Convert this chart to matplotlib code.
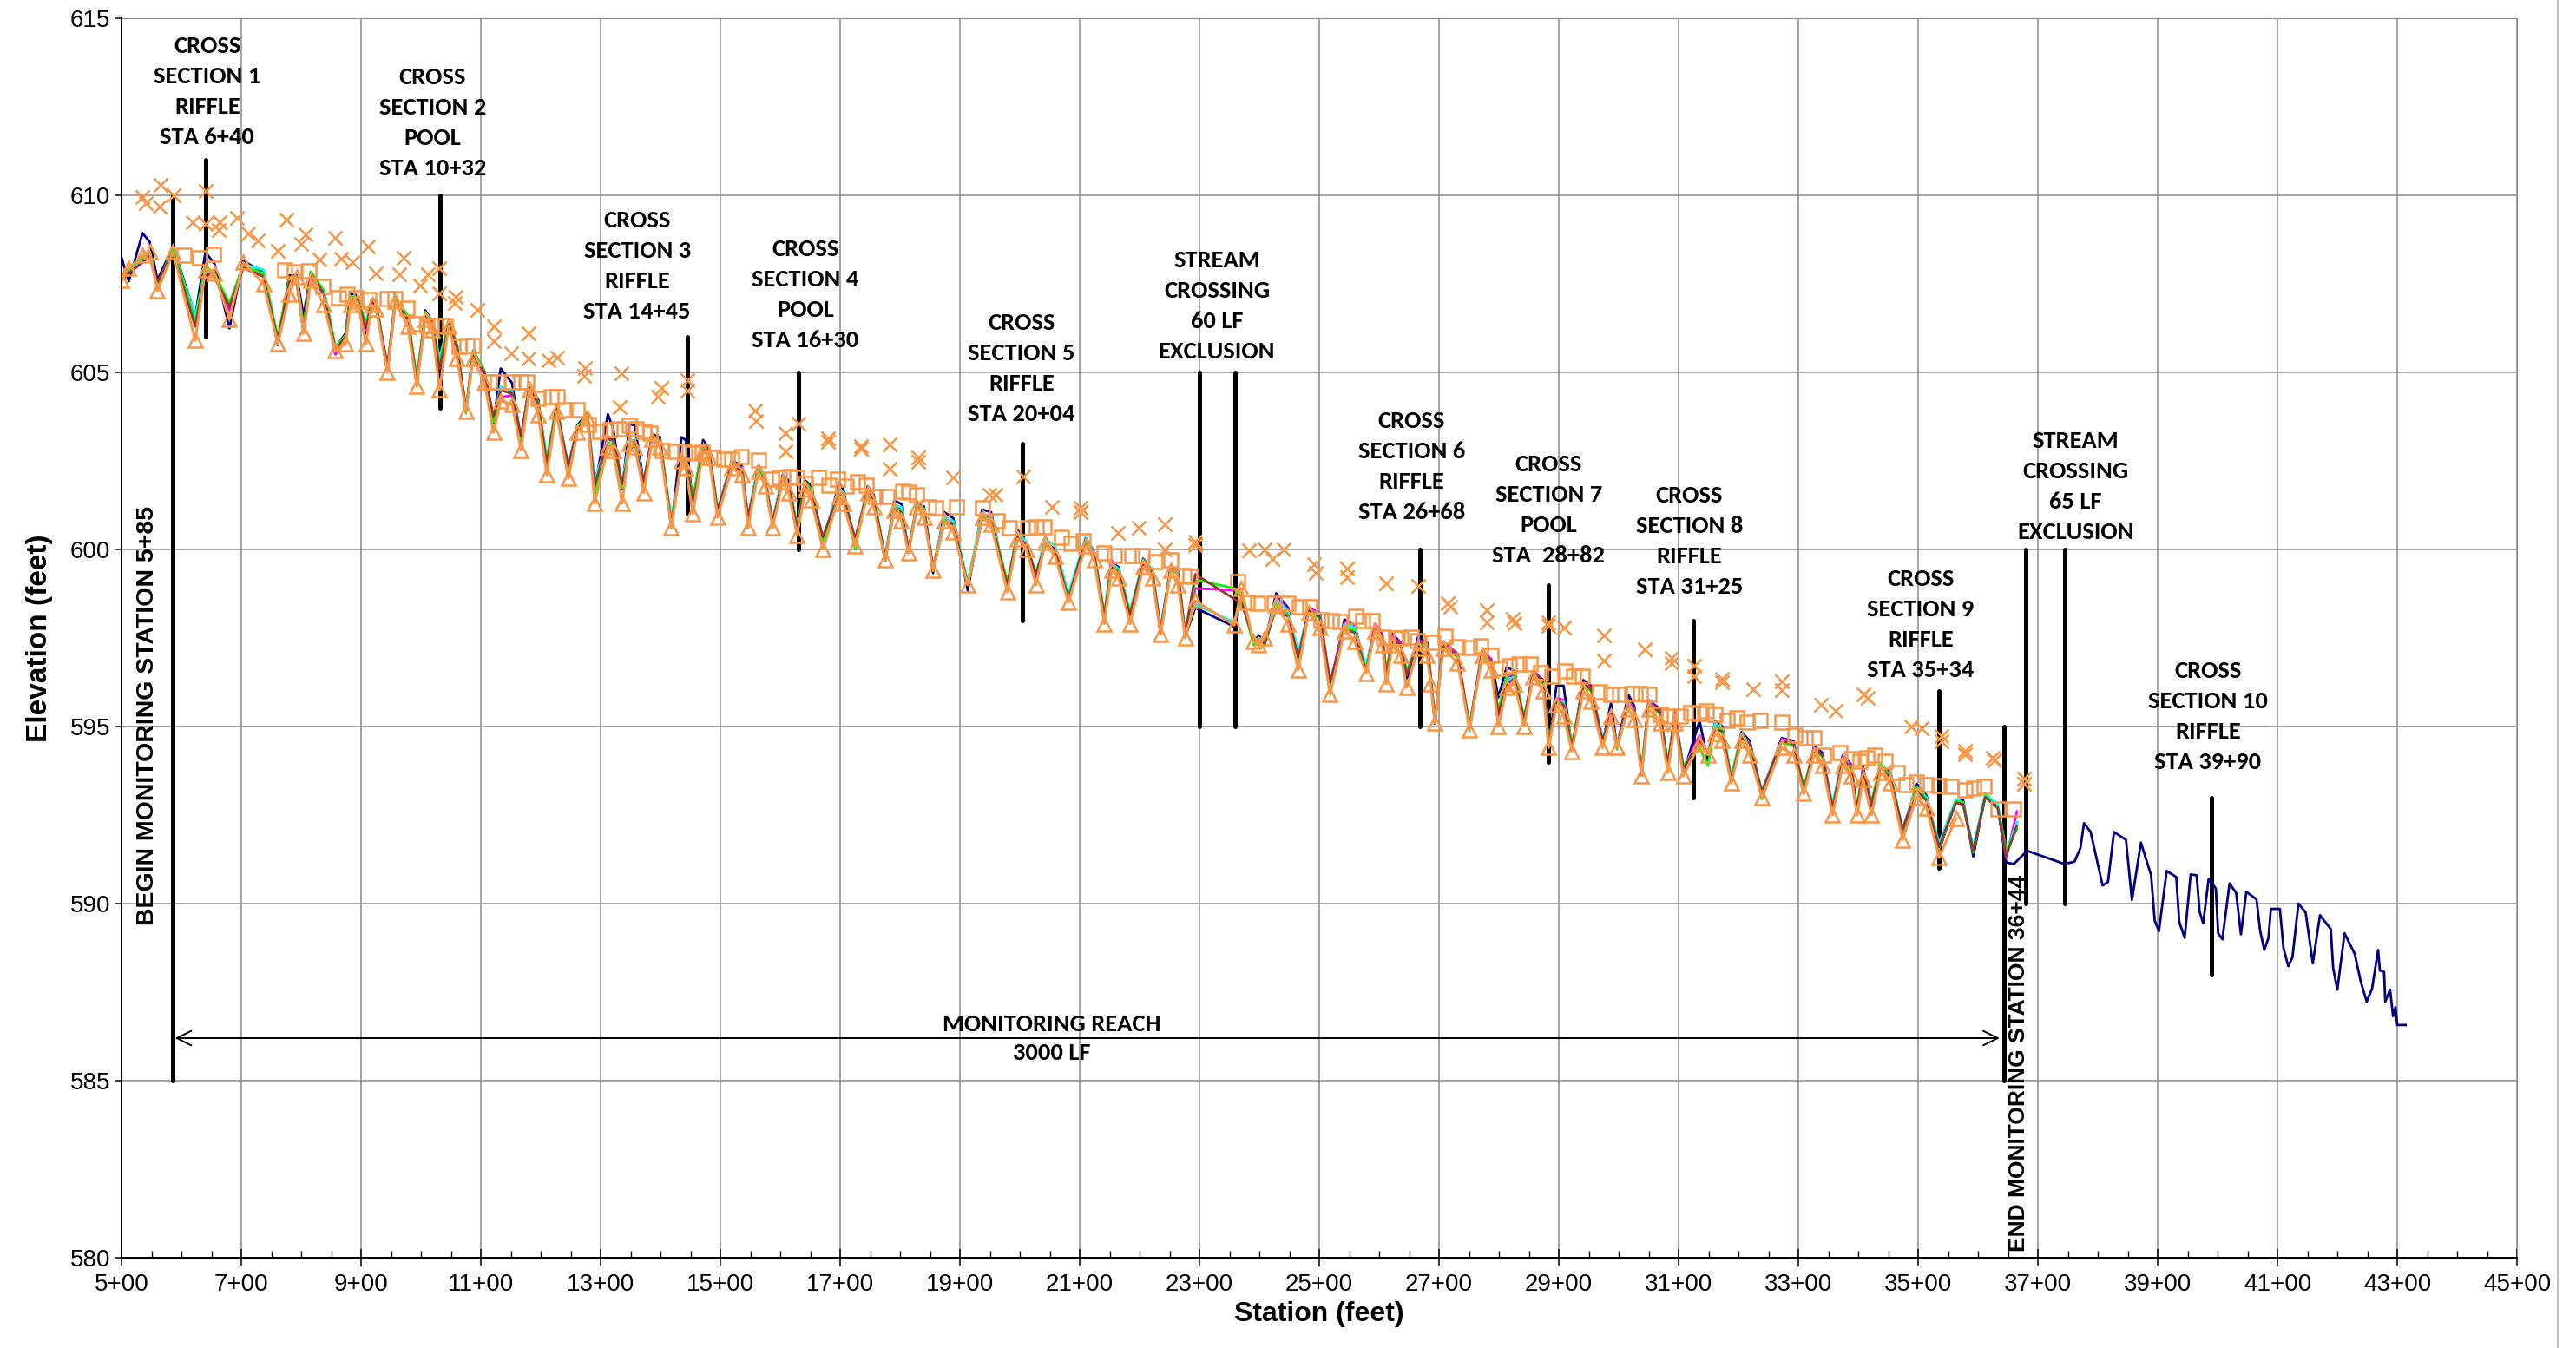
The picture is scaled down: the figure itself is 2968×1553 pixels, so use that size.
import matplotlib
matplotlib.use('Agg')
import numpy as np
import matplotlib.pyplot as plt
from matplotlib.ticker import FixedLocator, FuncFormatter
from matplotlib.lines import Line2D
from matplotlib import font_manager

# ---------------- data ----------------
# survey stations shared by the as-built profile and the monitoring surveys (ft)
survey_sta = [500, 512, 535, 547, 560, 586, 623, 640, 655, 680, 703, 737, 761, 780, 792, 804, 816, 838, 857, 874,
              882, 894, 908, 918, 925, 944, 957, 978, 993, 1007, 1019, 1031, 1046, 1060, 1075, 1087, 1106, 1121,
              1133, 1152, 1167, 1181, 1196, 1210, 1226,
              1246, 1261, 1278, 1290, 1312, 1321, 1336, 1348, 1357, 1372, 1386, 1399, 1418, 1435, 1442, 1454, 1471,
              1481, 1495, 1519, 1536, 1546, 1563, 1575, 1587, 1604, 1614, 1628, 1642, 1652, 1671, 1698, 1705, 1725,
              1746, 1756, 1775, 1790, 1802, 1814, 1828, 1840, 1855, 1874, 1889, 1913, 1937, 1952,
              1979, 1996, 2011, 2027, 2042, 2059, 2081, 2110, 2124, 2141, 2153, 2165, 2184, 2206, 2221, 2235, 2252,
              2264, 2276, 2293, 2358, 2370, 2390, 2399, 2409, 2428, 2448, 2465, 2482, 2501, 2518, 2542, 2559, 2578,
              2593, 2605, 2612, 2622, 2636, 2646, 2665, 2680,
              2686, 2693, 2707, 2731, 2751, 2772, 2787, 2799, 2813, 2826, 2842, 2857, 2874, 2883, 2896, 2908, 2922,
              2941, 2954, 2973, 2987, 2997, 3016, 3026, 3038, 3050, 3069, 3082, 3094, 3108, 3135, 3149, 3161, 3173,
              3188, 3205, 3219, 3239, 3272, 3292, 3309, 3326, 3340, 3357, 3374, 3388, 3398, 3408,
              3422, 3437, 3454, 3474, 3497, 3514, 3535, 3563, 3575, 3592, 3612, 3633, 3647]

# as-built profile (navy), continues below the monitoring reach
asb_tail_sta = [3660, 3682, 3744, 3761, 3771, 3777, 3788, 3808, 3817, 3827, 3847, 3857, 3872, 3889, 3895, 3902,
                3915, 3931, 3936, 3945, 3955, 3965, 3970, 3976, 3985, 3997, 4001, 4008, 4020, 4031, 4039, 4048,
                4065, 4071, 4078, 4085, 4089, 4104, 4110, 4118, 4125, 4135, 4147, 4159, 4171, 4189, 4193, 4200,
                4212, 4229, 4239, 4249, 4258, 4268, 4271, 4278, 4280, 4288, 4293, 4297, 4300, 4314]
asb_el = [608.23, 607.57, 608.93, 608.68, 607.61, 608.56, 606.59, 608.39, 608.07, 606.24, 608.15, 607.82, 605.77,
          607.74, 607.74, 606.59, 607.82, 607.25, 605.69, 606.10, 607.25, 607.16, 606.10, 607.08, 607.00, 605.03,
          607.08, 606.59, 604.62, 606.75, 606.43, 604.70, 606.43, 605.77, 603.89, 605.61, 605.03, 603.56, 605.11,
          604.70, 603.07, 604.70, 604.21, 602.25, 604.10,
          602.27, 603.50, 603.86, 601.70, 603.82, 603.41, 601.70, 603.54, 603.50, 601.86, 603.25, 603.17, 600.64,
          603.17, 603.09, 601.29, 603.09, 602.84, 601.05, 602.52, 602.35, 600.88, 602.35, 602.03, 600.72, 602.11,
          601.94, 600.56, 601.94, 601.78, 600.15, 601.86, 601.70, 600.15, 601.78, 601.54, 599.66, 601.37, 601.29,
          599.90, 601.29, 601.21, 599.33, 601.05, 600.88, 598.84, 601.13, 601.05,
          598.84, 600.56, 600.15, 599.17, 600.15, 600.02, 598.59, 600.31, 599.90, 598.02, 599.66, 599.49, 597.98,
          599.74, 599.41, 597.61, 599.53, 599.41, 597.53, 598.35, 597.82, 598.68, 597.37, 597.57, 597.37, 598.76,
          598.35, 596.72, 598.35, 598.19, 596.06, 598.02, 597.86, 596.55, 597.86, 597.61, 596.39, 597.61, 597.37,
          596.31, 597.53, 597.37,
          596.39, 595.08, 597.38, 597.05, 594.92, 597.13, 596.89, 595.82, 596.68, 596.56, 595.16, 596.56, 596.31,
          594.43, 596.15, 596.15, 594.34, 596.31, 596.15, 594.51, 595.66, 594.43, 595.90, 595.57, 593.61, 595.74,
          595.49, 593.85, 595.41, 593.69, 595.16, 594.02, 595.16, 595.00, 593.44, 594.84, 594.59, 593.03, 594.67,
          594.59, 593.11, 594.43, 594.26, 592.62, 594.18, 593.93, 592.54, 593.85,
          592.72, 593.91, 593.70, 591.90, 593.38, 593.05, 591.49, 592.93, 592.93, 591.33, 593.05, 592.72, 591.16,
          591.12, 591.49, 591.12, 591.18, 591.57, 592.27, 592.02, 590.51, 590.61, 592.02, 591.80, 590.10, 591.72,
          590.80, 589.52, 589.22, 590.92, 590.75, 589.48, 589.03, 590.82, 590.80, 589.77, 589.44, 590.69, 590.43,
          589.16, 588.99, 590.57, 590.30, 589.13, 590.33, 590.12, 589.24, 588.69, 589.03, 589.85, 589.85, 588.75,
          588.23, 588.48, 590.00, 589.75, 588.31, 589.67, 589.28, 588.17, 587.57, 589.16, 588.58, 587.80, 587.23,
          587.60, 588.69, 588.11, 588.07, 587.23, 587.57, 586.82, 587.07, 586.57, 586.57]

# monitoring surveys
mon_sta = survey_sta + [3665]
mon_cyan = [607.7, 607.9, 608.2, 608.35, 607.4, 608.45, 606.6, 607.9, 607.75, 606.9, 608.05, 607.9, 605.95, 607.6,
            607.65, 606.3, 607.75, 607.3, 605.75, 606.0, 607.1, 607.1, 606.4, 607.0, 606.95, 605.15, 607.0, 606.55,
            604.85, 606.65, 606.4, 605.4, 606.4, 605.75, 604.0, 605.55, 605.0, 603.7, 604.6, 604.45, 603.2, 604.55,
            604.1, 602.6, 604.0,
            602.4, 603.4, 603.75, 602.0, 603.0, 603.1, 601.9, 603.05, 603.1, 601.9, 603.1, 603.05, 600.9, 602.4, 602.6,
            601.4, 602.9, 602.8, 601.15, 602.4, 602.25, 600.95, 602.3, 601.95, 600.85, 602.0, 601.85, 600.7, 601.85,
            601.7, 600.3, 601.75, 601.6, 600.3, 601.7, 601.5, 599.8, 601.25, 601.2, 600.0, 601.25, 601.15, 599.5,
            600.9, 600.8, 599.1, 601.0, 600.95,
            599.0, 600.5, 600.2, 599.3, 600.3, 600.1, 598.75, 600.35, 599.95, 598.2, 599.6, 599.45, 598.25, 599.7,
            599.45, 597.8, 599.5, 599.4, 597.65, 598.45, 597.95, 598.6, 597.4, 597.5, 597.4, 598.6, 598.25, 597.1,
            598.3, 598.15, 596.0, 597.9, 597.8, 596.7, 597.8, 597.6, 596.5, 597.45, 597.3, 596.6, 597.4, 597.3,
            596.5, 595.2, 597.3, 597.0, 594.85, 597.1, 596.85, 595.4, 596.3, 596.4, 595.2, 596.5, 596.25, 594.6,
            595.6, 595.7, 594.45, 596.2, 596.05, 594.7, 595.2, 594.5, 595.6, 595.45, 593.8, 595.65, 595.4, 593.9,
            595.3, 593.85, 594.6, 594.3, 595.1, 594.95, 593.6, 594.8, 594.5, 593.2, 594.6, 594.5, 593.25, 594.35,
            594.2, 592.8, 594.1, 593.85, 592.7, 593.75,
            592.9, 593.85, 593.65, 592.1, 593.3, 593.0, 591.7, 592.95, 592.85, 591.6, 593.1, 592.8, 591.45, 592.3]
mon_magenta = [607.6, 607.85, 608.1, 608.3, 607.35, 608.4, 606.3, 607.8, 607.7, 606.75, 607.95, 607.75, 605.9, 607.5,
               607.6, 606.1, 607.7, 607.2, 605.5, 605.9, 607.0, 607.05, 606.2, 606.95, 606.9, 605.0, 606.95, 606.5,
               604.7, 606.6, 606.35, 605.3, 606.3, 605.7, 603.95, 605.5, 604.95, 603.65, 604.3, 604.35, 603.15, 604.6,
               604.05, 602.45, 603.95,
               602.3, 603.35, 603.7, 601.9, 603.2, 603.05, 601.8, 603.1, 603.0, 601.85, 603.05, 603.0, 600.8, 602.5,
               602.55, 601.35, 602.8, 602.75, 600.95, 602.45, 602.3, 600.9, 602.2, 601.9, 600.75, 602.0, 601.8, 600.6,
               601.8, 601.65, 600.25, 601.7, 601.55, 600.2, 601.65, 601.45, 599.75, 601.2, 601.15, 599.95, 601.2,
               601.1, 599.45, 600.85, 600.75, 599.0, 600.95, 600.9,
               598.9, 600.45, 600.1, 599.2, 600.2, 600.0, 598.7, 600.25, 599.85, 598.1, 599.7, 599.4, 598.1, 599.6,
               599.35, 597.7, 599.45, 599.35, 597.6, 598.9, 598.85, 598.7, 597.35, 597.45, 597.35, 598.65, 598.3,
               596.9, 598.35, 598.2, 596.2, 597.95, 597.85, 596.65, 597.9, 597.65, 596.45, 597.55, 597.35, 596.5,
               597.45, 597.3,
               596.4, 595.15, 597.35, 597.05, 595.0, 597.15, 596.9, 595.3, 596.4, 596.45, 595.15, 596.55, 596.3, 594.5,
               595.8, 595.75, 594.4, 596.25, 596.1, 594.6, 595.4, 594.45, 595.7, 595.5, 593.7, 595.7, 595.45, 593.85,
               595.35, 593.8, 594.75, 594.2, 595.05, 594.9, 593.5, 594.7, 594.45, 593.1, 594.65, 594.55, 593.2, 594.4,
               594.2, 592.75, 594.15, 593.9, 592.65, 593.8,
               592.8, 593.9, 593.6, 592.0, 593.25, 592.95, 591.6, 592.85, 592.8, 591.55, 593.0, 592.75, 591.3, 592.6]
mon_green = [607.65, 607.9, 608.25, 608.4, 607.45, 608.55, 606.4, 608.0, 607.8, 606.95, 608.0, 607.8, 606.0, 607.65,
             607.7, 606.25, 607.85, 607.3, 605.7, 606.05, 607.15, 607.1, 606.35, 607.05, 606.95, 605.1, 607.1, 606.6,
             604.8, 606.7, 606.45, 605.2, 606.45, 605.8, 603.85, 605.6, 605.05, 603.6, 604.5, 604.4, 603.1, 604.65,
             604.15, 602.5, 604.05,
             602.1, 603.45, 603.8, 601.55, 602.9, 603.0, 601.75, 602.9, 603.0, 601.7, 603.2, 603.1, 600.75, 602.45,
             602.5, 601.45, 602.95, 602.8, 601.1, 602.3, 602.2, 600.85, 602.25, 601.95, 600.7, 601.95, 601.85, 600.65,
             601.9, 601.7, 600.2, 601.65, 601.55, 600.0, 601.7, 601.5, 599.7, 601.15, 601.1, 599.9, 601.25, 601.15,
             599.4, 600.8, 600.7, 599.05, 600.9, 600.85,
             599.1, 600.35, 600.05, 599.35, 600.1, 599.95, 598.65, 600.2, 599.9, 598.15, 599.55, 599.4, 598.2, 599.65,
             599.35, 597.65, 599.4, 599.3, 597.55, 599.15, 598.9, 598.65, 597.3, 597.45, 597.3, 598.45, 598.15,
             596.85, 598.25, 598.05, 596.15, 597.85, 597.7, 596.6, 597.75, 597.55, 596.6, 597.4, 597.25, 596.55,
             597.35, 597.25,
             596.45, 595.1, 597.25, 596.95, 595.05, 597.05, 596.8, 595.45, 596.45, 596.5, 595.25, 596.45, 596.2,
             594.55, 595.7, 595.65, 594.5, 596.1, 596.0, 594.55, 595.3, 594.35, 595.65, 595.4, 593.75, 595.6, 595.35,
             594.0, 595.2, 593.9, 594.4, 593.9, 595.0, 594.9, 593.55, 594.75, 594.4, 592.95, 594.55, 594.45, 593.3,
             594.3, 594.15, 592.7, 594.0, 593.8, 592.75, 593.7,
             592.85, 593.95, 593.6, 592.05, 593.3, 592.95, 591.55, 592.9, 592.85, 591.45, 593.05, 592.7, 591.5, 592.1]
mon_brown = [607.6, 607.8, 608.1, 608.3, 607.55, 608.4, 606.3, 607.8, 607.7, 606.85, 607.95, 607.7, 605.9, 607.55,
             607.6, 606.15, 607.8, 607.2, 605.65, 606.0, 607.05, 607.05, 606.25, 607.0, 606.9, 605.2, 607.0, 606.5,
             604.75, 606.6, 606.4, 605.1, 606.35, 605.75, 603.95, 605.5, 605.0, 603.75, 604.5, 604.4, 603.2, 604.55,
             604.1, 602.4, 604.0,
             602.35, 603.4, 603.7, 601.8, 603.1, 603.1, 601.85, 602.8, 602.95, 601.9, 603.2, 603.1, 600.7, 602.6,
             602.55, 601.3, 602.8, 602.85, 601.1, 602.4, 602.2, 600.9, 602.2, 601.9, 600.8, 601.95, 601.8, 600.6,
             601.85, 601.6, 600.35, 601.6, 601.5, 600.3, 601.65, 601.4, 599.8, 601.1, 601.05, 600.0, 601.2, 601.1,
             599.5, 600.75, 600.7, 599.0, 600.85, 600.8,
             599.0, 600.4, 600.1, 599.3, 600.15, 600.0, 598.6, 600.3, 599.9, 598.1, 599.5, 599.35, 598.15, 599.65,
             599.4, 597.75, 599.5, 599.35, 597.6, 599.3, 598.6, 598.5, 597.45, 597.4, 597.35, 598.35, 598.1, 596.95,
             598.3, 598.1, 596.25, 597.75, 597.65, 596.55, 597.8, 597.6, 596.4, 597.5, 597.3, 596.45, 597.4, 597.3,
             596.4, 595.2, 597.3, 597.0, 595.0, 597.1, 596.85, 595.35, 596.2, 596.35, 595.2, 596.5, 596.3, 594.5,
             595.75, 595.6, 594.4, 596.2, 596.05, 594.6, 595.35, 594.45, 595.6, 595.45, 593.7, 595.65, 595.4, 593.9,
             595.3, 593.8, 594.6, 594.25, 594.95, 594.85, 593.5, 594.7, 594.5, 593.15, 594.6, 594.5, 593.2, 594.35,
             594.2, 592.7, 594.05, 593.85, 592.65, 593.75,
             592.8, 593.85, 593.55, 592.1, 593.2, 592.9, 591.6, 592.85, 592.8, 591.5, 593.0, 592.7, 591.35, 592.2]
# latest thalweg survey (orange triangles)
mon_latest = [607.6, 607.95, 608.3, 608.4, 607.3, 608.4, 605.9, 607.9, 607.8, 606.5, 608.1, 607.5, 605.8, 607.2,
              607.7, 606.1, 607.6, 606.9, 605.6, 605.8, 606.9, 607.0, 605.8, 606.9, 606.8, 605.0, 607.0, 606.3,
              604.6, 606.5, 606.2, 604.5, 606.3, 605.4, 603.9, 605.4, 604.7, 603.3, 604.2, 604.1, 602.8, 604.5,
              603.8, 602.1, 603.9,
              602.0, 603.3, 603.7, 601.3, 602.9, 602.8, 601.3, 603.0, 602.9, 601.6, 603.1, 602.9, 600.6, 602.5, 602.3,
              601.0, 602.8, 602.6, 600.9, 602.3, 602.1, 600.6, 602.2, 601.8, 600.6, 601.9, 601.6, 600.4, 601.7,
              601.4, 600.0, 601.5, 601.3, 600.1, 601.6, 601.2, 599.7, 601.1, 600.8, 599.9, 601.2, 600.9, 599.4,
              600.8, 600.5, 599.0, 600.9, 600.7,
              598.8, 600.3, 600.0, 599.0, 600.2, 599.8, 598.5, 600.1, 599.7, 597.9, 599.4, 599.2, 597.9, 599.5, 599.2,
              597.6, 599.4, 599.0, 597.5, 598.55, 597.86, 598.9, 597.4, 597.3, 597.5, 598.4, 597.9, 596.6, 598.2,
              597.8, 595.9, 597.7, 597.4, 596.5, 597.7, 597.3, 596.2, 597.3, 597.0, 596.1, 597.2, 597.0,
              596.2, 595.1, 597.2, 596.8, 594.9, 597.0, 596.6, 595.0, 596.1, 596.2, 595.0, 596.4, 596.0, 594.4,
              595.6, 595.3, 594.3, 596.0, 595.7, 594.4, 595.3, 594.4, 595.5, 595.2, 593.6, 595.5, 595.1, 593.7,
              595.1, 593.6, 594.5, 594.2, 594.8, 594.6, 593.4, 594.6, 594.2, 593.0, 594.4, 594.2, 593.1, 594.2,
              593.9, 592.5, 593.9, 593.6, 592.5, 593.5,
              592.5, 593.7, 593.4, 591.8, 593.0, 592.7, 591.3, 592.4]

# water surface (squares)
ws_sta = [604, 630, 654, 773, 789, 813, 836, 862, 877, 891, 913, 944, 957, 976, 993, 1010, 1024, 1041, 1063, 1077,
          1087, 1114, 1128, 1152, 1167, 1176, 1196, 1217, 1227, 1241, 1261, 1280, 1299, 1316, 1331, 1348, 1360,
          1372, 1382, 1403, 1425, 1440, 1454, 1469, 1488, 1505, 1519, 1534, 1563, 1585, 1599, 1616, 1628, 1642,
          1664, 1681, 1696, 1710, 1729, 1744, 1758, 1778, 1804, 1814, 1828, 1848, 1860, 1894, 1937,
          1962, 1982, 2013, 2027, 2040, 2069, 2085, 2105, 2141, 2158, 2187, 2204, 2226, 2252, 2274, 2284, 2363,
          2380, 2397, 2424, 2448, 2467, 2484, 2503, 2520, 2535, 2561, 2573, 2588, 2607, 2627, 2636, 2653, 2663,
          2690, 2710, 2731, 2751, 2770, 2787, 2801, 2818, 2833, 2852, 2869, 2888, 2910, 2925, 2939, 2968, 2987,
          3002, 3021, 3036, 3050, 3069, 3084, 3103, 3120, 3135, 3147, 3161, 3181, 3197, 3214, 3236, 3272, 3294,
          3311, 3326, 3342, 3369, 3388, 3403,
          3414, 3428, 3445, 3465, 3480, 3497, 3514, 3535, 3555, 3578, 3592, 3610, 3633, 3659]
ws_el = [608.32, 608.24, 608.33, 607.88, 607.85, 607.87, 607.42, 607.11, 607.21, 607.11, 607.05, 607.09, 607.09,
         606.81, 606.37, 606.32, 606.32, 606.32, 605.74, 605.77, 605.77, 604.74, 604.74, 604.72, 604.74, 604.74,
         604.27, 604.31, 604.31, 603.95, 603.95, 603.54, 603.33, 603.37, 603.41, 603.50, 603.41, 603.33, 603.29,
         602.80, 602.76, 602.76, 602.72, 602.75, 602.60, 602.56, 602.56, 602.61, 602.52, 601.99, 602.03, 602.07,
         602.03, 601.86, 602.03, 601.82, 601.99, 601.78, 601.90, 601.82, 601.50, 601.50, 601.63, 601.62, 601.54,
         601.21, 601.17, 601.21, 601.17,
         600.80, 600.60, 600.62, 600.64, 600.64, 600.35, 600.16, 600.25, 599.89, 599.82, 599.82, 599.82, 599.66,
         599.70, 599.26, 599.25, 599.08, 598.51, 598.47, 598.47, 598.47, 598.39, 598.39, 598.02, 597.98, 597.96,
         598.12, 597.98, 597.98, 597.53, 597.49, 597.49, 597.53, 597.43,
         597.38, 597.54, 597.25, 597.23, 597.28, 597.01, 596.64, 596.72, 596.76, 596.76, 596.52, 596.43, 596.56,
         596.43, 596.43, 595.98, 595.90, 595.90, 595.94, 595.94, 595.90, 595.33, 595.29, 595.29, 595.39, 595.37,
         595.45, 595.33, 595.16, 595.25, 595.12, 595.16, 595.12, 594.75, 594.69, 594.69, 594.18, 594.26, 594.10,
         594.02,
         594.11, 594.20, 594.03, 593.70, 593.36, 593.42, 593.36, 593.34, 593.30, 593.21, 593.25, 593.30, 592.68,
         592.68]

# bankfull (x markers)
bkf_sta = [534, 541, 565, 563, 587, 618, 641, 641, 664, 662, 693, 712, 727, 775, 761, 800, 807, 831, 857, 867, 886,
           911, 925, 964, 971, 998, 1012, 1031, 1031, 1058, 1056, 1094, 1121, 1121, 1150, 1179, 1179, 1213,
           1227, 1274, 1273, 1334, 1332, 1396, 1401, 1445, 1445, 1558, 1559, 1608, 1609, 1630, 1679, 1679, 1734,
           1735, 1783, 1783, 1831, 1831, 1889, 1949,
           1960, 2006, 2054, 2102, 2102, 2163, 2199, 2242, 2242, 2293, 2293, 2383, 2409, 2421, 2441, 2491, 2494,
           2547, 2547, 2612, 2665,
           2714, 2719, 2780, 2780, 2823, 2826, 2883, 2883, 2908, 2975, 2975, 3043, 3089, 3089, 3126, 3126, 3173,
           3173, 3225, 3272, 3272, 3338, 3362, 3408,
           3416, 3488, 3506, 3539, 3539, 3578, 3578, 3624, 3627, 3677, 3677]
bkf_el = [609.95, 609.79, 610.29, 609.67, 609.99, 609.23, 610.11, 609.19, 609.23, 609.01, 609.36, 608.93, 608.73,
          609.31, 608.44, 608.63, 608.89, 608.19, 608.79, 608.21, 608.11, 608.56, 607.80, 607.77, 608.24, 607.46,
          607.77, 607.95, 607.24, 607.13, 606.97, 606.76, 606.29, 605.88, 605.54, 606.09, 605.38, 605.34,
          605.42, 605.13, 604.89, 604.97, 604.03, 604.31, 604.56, 604.79, 604.48, 603.91, 603.62, 603.29, 602.78,
          603.56, 603.13, 603.05, 602.92, 602.84, 602.97, 602.29, 602.60, 602.48, 602.03, 601.54,
          601.54, 602.07, 601.21, 601.17, 601.05, 600.46, 600.60, 600.70, 600.00, 600.23, 600.11, 599.97, 600.00,
          599.74, 600.01, 599.59, 599.33, 599.45, 599.21, 599.04, 598.96,
          598.48, 598.38, 598.28, 597.95, 598.03, 597.91, 597.95, 597.83, 597.79, 597.58, 596.87, 597.17, 596.93,
          596.80, 596.72, 596.41, 596.35, 596.25, 596.05, 596.27, 596.02, 595.61, 595.43, 595.90,
          595.80, 595.00, 594.95, 594.73, 594.59, 594.32, 594.21, 594.11, 594.05, 593.54, 593.38]

# cross section / landmark marker lines (station, bottom, top)
mark_sta = [585, 640, 1032, 1445, 1630, 2004, 2300, 2360, 2668, 2882, 3125, 3534, 3644, 3680, 3745, 3990]
mark_lo = [585, 606, 604, 601, 600, 598, 595, 595, 595, 594, 593, 591, 585, 590, 590, 588]
mark_hi = [610, 611, 610, 606, 605, 603, 605, 605, 600, 599, 598, 596, 595, 600, 600, 593]

labels = ["CROSS\nSECTION 1\nRIFFLE\nSTA 6+40", "CROSS\nSECTION 2\nPOOL\nSTA 10+32",
          "CROSS\nSECTION 3\nRIFFLE\nSTA 14+45", "CROSS\nSECTION 4\nPOOL\nSTA 16+30",
          "CROSS\nSECTION 5\nRIFFLE\nSTA 20+04", "STREAM\nCROSSING\n60 LF\nEXCLUSION",
          "CROSS\nSECTION 6\nRIFFLE\nSTA 26+68", "CROSS\nSECTION 7\nPOOL\nSTA  28+82",
          "CROSS\nSECTION 8\nRIFFLE\nSTA 31+25", "CROSS\nSECTION 9\nRIFFLE\nSTA 35+34",
          "STREAM\nCROSSING\n65 LF\nEXCLUSION", "CROSS\nSECTION 10\nRIFFLE\nSTA 39+90"]
label_x = [643, 1019, 1361, 1642, 2003, 2329, 2654, 2883, 3118, 3504, 3763, 3984]
label_y = [612.93, 612.05, 607.99, 607.2, 605.11, 606.88, 602.35, 601.12, 600.24, 597.87, 601.77, 595.27]

assert len(asb_el) == len(survey_sta) + len(asb_tail_sta)
for s in (mon_cyan, mon_magenta, mon_green, mon_brown):
    assert len(s) == len(mon_sta), len(s)
assert len(ws_sta) == len(ws_el) and len(bkf_sta) == len(bkf_el)

# ---------------- fonts ----------------
names = {f.name for f in font_manager.fontManager.ttflist}
note_font = 'Carlito' if 'Carlito' in names else 'Lato'
axis_font = 'Liberation Sans'

# ---------------- plot ----------------
fig = plt.figure(figsize=(29.68, 15.53), dpi=100)
ax = fig.add_axes([0.0472, 0.0670, 0.9299, 0.9195])

orange = '#F79646'
for x, lo, hi in zip(mark_sta, mark_lo, mark_hi):
    ax.plot([x, x], [lo, hi], color='black', lw=3.6, solid_capstyle='round', zorder=2)

ax.plot(survey_sta + asb_tail_sta, asb_el, color='#000080', lw=2.0, zorder=3)
ax.plot(mon_sta, mon_magenta, color='#FF00FF', lw=2.0, zorder=3)
ax.plot(mon_sta, mon_cyan, color='#00FFFF', lw=2.0, zorder=3)
ax.plot(mon_sta, mon_green, color='#00FF00', lw=2.0, zorder=3)
ax.plot(mon_sta, mon_brown, color='#943634', lw=2.0, zorder=3)
ax.plot(mon_sta[:len(mon_latest)], mon_latest, color=orange, lw=2.2, marker='^', ms=12,
        mfc='none', mec=orange, mew=1.8, zorder=4)
ax.plot(ws_sta, ws_el, ls='none', marker='s', ms=11, mfc='none', mec=orange, mew=1.8, zorder=5)
ax.plot(bkf_sta, bkf_el, ls='none', marker='x', ms=11, mec=orange, mew=1.8, zorder=5)

for txt, x, y in zip(labels, label_x, label_y):
    ax.text(x, y, txt, ha='center', va='center', multialignment='center', fontsize=20.5,
            fontweight='bold', family=note_font, linespacing=1.55, zorder=6)

ax.text(544, 595.3, "BEGIN MONITORING STATION 5+85", rotation=90, ha='center', va='center',
        fontsize=20.5, fontweight='bold', family=axis_font, zorder=6)
ax.text(3668, 585.5, "END MONITORING STATION 36+44", rotation=90, ha='center', va='center',
        fontsize=19, fontweight='bold', family=axis_font, zorder=6, clip_on=False)

ax.annotate('', xy=(585, 586.2), xytext=(3640, 586.2),
            arrowprops=dict(arrowstyle='<->', color='black', lw=1.4, mutation_scale=30))
ax.text(2053, 586.19, "MONITORING REACH\n3000 LF", ha='center', va='center', multialignment='center',
        fontsize=20.5, fontweight='bold', family=note_font, linespacing=1.45, zorder=6)

ax.set_xlim(500, 4500)
ax.set_ylim(580, 615)
ax.xaxis.set_major_locator(FixedLocator(np.arange(500, 4501, 200)))
ax.xaxis.set_minor_locator(FixedLocator(np.arange(500, 4501, 50)))
ax.yaxis.set_major_locator(FixedLocator(np.arange(580, 616, 5)))
ax.xaxis.set_major_formatter(FuncFormatter(lambda v, p: f"{int(round(v)) // 100}+{int(round(v)) % 100:02d}"))
ax.grid(True, which='major', color='#8c8c8c', lw=1.1)
ax.set_axisbelow(True)
ax.tick_params(axis='x', which='major', direction='inout', length=14, width=1.1, labelsize=20, pad=6)
ax.tick_params(axis='x', which='minor', direction='in', length=6, width=1.0)
ax.tick_params(axis='y', which='major', direction='out', length=6, width=1.1, labelsize=20)
for lab in ax.get_xticklabels() + ax.get_yticklabels():
    lab.set_family(axis_font)
for sp in ('top', 'right'):
    ax.spines[sp].set_color('#8c8c8c')
ax.spines['left'].set_linewidth(1.4)
ax.spines['bottom'].set_linewidth(1.4)

ax.set_xlabel("Station (feet)", fontsize=23, fontweight='bold', family=axis_font, labelpad=4)
ax.set_ylabel("Elevation (feet)", fontsize=24, fontweight='bold', family=axis_font, labelpad=14)

fig.add_artist(Line2D([2947 / 2968] * 2, [0, 1], color='#c0c0c0', lw=1.5, transform=fig.transFigure))

fig.savefig('out.png', dpi=100)
